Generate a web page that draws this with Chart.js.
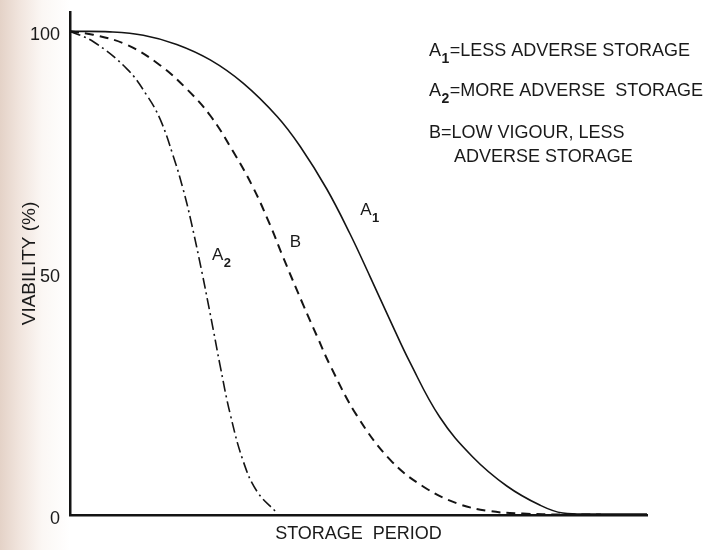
<!DOCTYPE html>
<html>
<head>
<meta charset="utf-8">
<script src="https://cdn.jsdelivr.net/npm/chart.js@4.4.1/dist/chart.umd.min.js"></script>
<style>
html, body { margin: 0; padding: 0; }
body {
  width: 714px; height: 550px; overflow: hidden;
  background: linear-gradient(to right, #e4d2c7 0px, #f1e5de 20px, #fbf7f4 42px, #ffffff 70px);
}
</style>
</head>
<body>
<canvas id="myChart" width="714" height="550"></canvas>
<script>
const periodA1 = [0, 6.9, 12.7, 18.5, 24.3, 30.0, 35.9, 39.9, 44.5, 48.5, 52.0, 55.5, 58.9, 64.1, 69.8, 75.7, 81.5, 85.4, 92, 100];
const viabilityA1 = [100, 99.9, 99.2, 97.3, 94.1, 89.3, 82.4, 76.2, 67.4, 58.2, 49.3, 40.2, 31.6, 20.2, 12.0, 6.0, 2.0, 0.4, 0.2, 0.2];

const periodB = [0, 4.0, 9.9, 15.6, 20.3, 24.3, 28.2, 31.7, 34.7, 36.9, 40.4, 42.8, 45.1, 49.7, 55.5, 61.2, 67.1, 72.8, 78.5, 85.4, 92];
const viabilityB = [100, 99.3, 97.2, 93.0, 88.0, 82.6, 75.3, 67.8, 59.9, 53.4, 43.5, 37.0, 30.9, 20.6, 11.4, 5.9, 2.4, 0.8, 0.3, 0.1, 0.1];

const periodA2 = [0, 4.0, 9.9, 13.3, 15.6, 17.9, 19.6, 21.0, 22.9, 23.9, 24.8, 26.0, 27.7, 30.0, 32.4, 35.9];
const viabilityA2 = [100, 97.9, 92.2, 86.8, 81.9, 74.2, 67.4, 60.6, 50.0, 44.0, 38.5, 31.0, 21.2, 11.2, 4.9, 0.4];

const yTicks = [0, 50, 100];

// curve name, subscript, and the data point the label sits at
const curveNames = ['A', 'B', 'A'];
const curveSubs = ['1', '', '2'];
const curveLabelAt = [[50.3, 62.0], [38.1, 55.4], [24.6, 52.7]];

// key text: letter, subscript, rest
const keyLines = [
  ['A', '1', '=LESS ADVERSE STORAGE'],
  ['A', '2', '=MORE ADVERSE  STORAGE'],
  ['B=LOW VIGOUR, LESS', '', ''],
  ['ADVERSE STORAGE', '', '']
];

function pts(xs, ys) {
  return xs.map((x, i) => ({ x: x, y: ys[i] }));
}

function subText(ctx, x, y, main, sub, rest, size) {
  ctx.font = size + 'px "Liberation Sans", Arial, sans-serif';
  ctx.fillText(main, x, y);
  let w = ctx.measureText(main).width;
  if (sub) {
    ctx.font = 'bold ' + Math.round(size * 0.75) + 'px "Liberation Sans", Arial, sans-serif';
    ctx.fillText(sub, x + w + 0.5, y + 7);
    w += ctx.measureText(sub).width + 1;
    ctx.font = size + 'px "Liberation Sans", Arial, sans-serif';
  }
  if (rest) ctx.fillText(rest, x + w, y);
}

const textPlugin = {
  id: 'textPlugin',
  afterDatasetsDraw(chart) {
    const ctx = chart.ctx;
    const xs = chart.scales.x, ys = chart.scales.y;
    ctx.save();
    ctx.fillStyle = '#1a1a1a';
    ctx.textBaseline = 'alphabetic';
    ctx.textAlign = 'left';
    curveNames.forEach((name, i) => {
      const px = xs.getPixelForValue(curveLabelAt[i][0]);
      const py = ys.getPixelForValue(curveLabelAt[i][1]);
      subText(ctx, px, py, name, curveSubs[i], '', 17);
    });
    const keyX = [429, 429, 429, 454];
    const keyY = [56, 96, 138, 162];
    keyLines.forEach((line, i) => {
      subText(ctx, keyX[i], keyY[i], line[0], line[1], line[2], 18);
    });
    ctx.restore();
  }
};

function drawChart() {
  const ctx = document.getElementById('myChart').getContext('2d');
  const ink = '#141414';

  const data = {
    datasets: [{
      label: 'A1',
      data: pts(periodA1, viabilityA1),
      borderColor: ink,
      borderWidth: 1.6,
      pointRadius: 0,
      tension: 0.4
    }, {
      label: 'B',
      data: pts(periodB, viabilityB),
      borderColor: ink,
      borderWidth: 2,
      borderDash: [9, 6],
      pointRadius: 0,
      tension: 0.4
    }, {
      label: 'A2',
      data: pts(periodA2, viabilityA2),
      borderColor: ink,
      borderWidth: 1.6,
      borderDash: [11, 4, 2, 4],
      pointRadius: 0,
      tension: 0.4
    }]
  };

  new Chart(ctx, {
    type: 'line',
    data: data,
    plugins: [textPlugin],
    options: {
      responsive: false,
      animation: false,
      layout: { padding: { top: 12, right: 67, bottom: 5, left: 0 } },
      plugins: { legend: { display: false }, tooltip: { enabled: false } },
      elements: { line: { fill: false } },
      scales: {
        x: {
          type: 'linear',
          min: 0,
          max: 100,
          grid: { drawOnChartArea: false, drawTicks: false },
          border: { color: ink, width: 2.5 },
          ticks: { display: false },
          title: {
            display: true,
            text: 'STORAGE  PERIOD',
            color: '#1a1a1a',
            font: { family: '"Liberation Sans", Arial, sans-serif', size: 18 },
            padding: { top: 0, bottom: 0 }
          },
          afterFit(scale) {
            scale.height = 30;
            scale.paddingLeft = 0;
            scale.paddingRight = 0;
          }
        },
        y: {
          type: 'linear',
          min: 0,
          max: 104,
          grid: { drawOnChartArea: false, drawTicks: false },
          border: { color: ink, width: 2.5 },
          afterBuildTicks(scale) { scale.ticks = yTicks.map(v => ({ value: v })); },
          ticks: {
            color: '#1a1a1a',
            padding: 10,
            labelOffset: 4,
            font: { family: '"Liberation Sans", Arial, sans-serif', size: 18 }
          },
          title: {
            display: true,
            text: 'VIABILITY (%)',
            color: '#1a1a1a',
            font: { family: '"Liberation Sans", Arial, sans-serif', size: 19 },
            padding: { top: 18, bottom: 0 }
          },
          afterFit(scale) {
            scale.width = 70;
            scale.paddingTop = 0;
            scale.paddingBottom = 0;
          }
        }
      }
    }
  });
}

drawChart();
</script>
</body>
</html>
